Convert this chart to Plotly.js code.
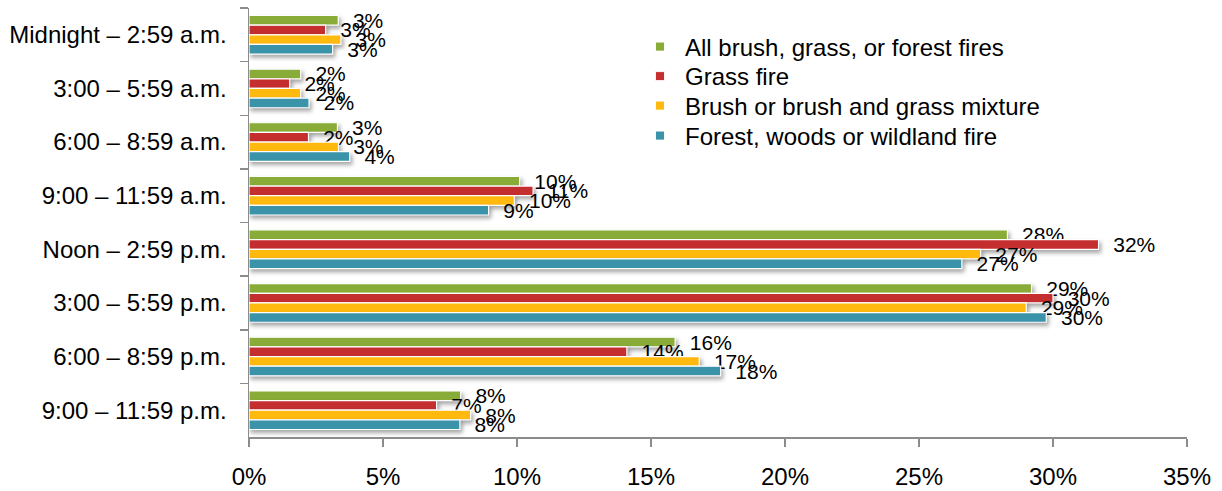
<!DOCTYPE html>
<html>
<head>
<meta charset="utf-8">
<script src="https://cdn.plot.ly/plotly-3.0.1.min.js"></script>
<style>
  html, body { margin: 0; padding: 0; background: #ffffff; }
  #chart { width: 1222px; height: 491px; }
  #chart .barlayer g.point path { filter: drop-shadow(2px 3px 2px rgba(0,0,0,0.35)); }
  #chart .legendpoints path { transform-box: fill-box; transform-origin: center; scale: 0.75; }
</style>
</head>
<body>
<div id="chart"></div>
<script>
const categories = [
  "Midnight – 2:59 a.m.",
  "3:00 – 5:59 a.m.",
  "6:00 – 8:59 a.m.",
  "9:00 – 11:59 a.m.",
  "Noon – 2:59 p.m.",
  "3:00 – 5:59 p.m.",
  "6:00 – 8:59 p.m.",
  "9:00 – 11:59 p.m."
];
const seriesNames = [
  "All brush, grass, or forest fires",
  "Grass fire",
  "Brush or brush and grass mixture",
  "Forest, woods or wildland fire"
];
const allFires   = [3.33, 1.93, 3.30, 10.1, 28.3, 29.2, 15.9, 7.9];
const grassFire  = [2.86, 1.52, 2.22, 10.6, 31.7, 30.0, 14.1, 7.0];
const brushFire  = [3.43, 1.93, 3.34, 9.9, 27.3, 29.0, 16.8, 8.27];
const forestFire = [3.12, 2.24, 3.76, 8.94, 26.6, 29.75, 17.6, 7.87];
const colors = ["#89AC38", "#C42E2E", "#FFB90F", "#3B93A9"];
const xTicks = [0, 5, 10, 15, 20, 25, 30, 35];

const seriesValues = [allFires, grassFire, brushFire, forestFire];
const FONT = "Liberation Sans, Arial, sans-serif";
const legendIds = ["legend", "legend2", "legend3", "legend4"];
const legendCentersPx = [47, 76.5, 106, 136];

const traces = seriesValues.map((vals, i) => ({
  type: "bar",
  orientation: "h",
  name: seriesNames[i],
  legend: legendIds[i],
  y: categories,
  x: vals,
  marker: { color: colors[i], line: { color: "#ffffff", width: 1.2 } },
  text: vals.map(v => "\u00a0\u00a0" + Math.round(v) + "%"),
  texttemplate: "%{text}",
  textposition: "outside",
  constraintext: "none",
  cliponaxis: false,
  textfont: { family: FONT, size: 21, color: "#000000" },
  hoverinfo: "skip"
}));

const plotTop = 8, plotH = 429;
const layout = {
  width: 1222,
  height: 491,
  margin: { l: 249, r: 35, t: 8, b: 54 },
  paper_bgcolor: "#ffffff",
  plot_bgcolor: "#ffffff",
  barmode: "group",
  bargap: 0.28,
  bargroupgap: 0,
  font: { family: FONT, size: 24, color: "#000000" },
  showlegend: true,
  xaxis: {
    range: [0, 35],
    tickvals: xTicks,
    ticktext: xTicks.map(t => t + "%"),
    showgrid: false,
    zeroline: false,
    showline: true,
    linecolor: "#8c8c8c",
    linewidth: 1.5,
    ticks: "outside",
    ticklen: 8,
    tickcolor: "#8c8c8c",
    tickwidth: 1.5,
    ticklabelstandoff: 10,
    tickfont: { family: FONT, size: 24, color: "#000000" },
    fixedrange: true
  },
  yaxis: {
    type: "category",
    autorange: "reversed",
    showgrid: false,
    zeroline: false,
    showline: true,
    linecolor: "#8c8c8c",
    linewidth: 1.5,
    ticks: "outside",
    tickson: "boundaries",
    ticklen: 8,
    tickcolor: "#8c8c8c",
    tickwidth: 1.5,
    ticklabelstandoff: 16,
    tickfont: { family: FONT, size: 24, color: "#000000" },
    fixedrange: true
  }
};

legendIds.forEach((id, i) => {
  layout[id] = {
    x: (645 - 249) / 938,
    y: 1 - (legendCentersPx[i] - plotTop) / plotH,
    xanchor: "left",
    yanchor: "middle",
    font: { family: FONT, size: 24, color: "#000000" },
    bgcolor: "rgba(0,0,0,0)",
    itemwidth: 30
  };
});

Plotly.newPlot("chart", traces, layout, { displayModeBar: false, staticPlot: true });
</script>
</body>
</html>
